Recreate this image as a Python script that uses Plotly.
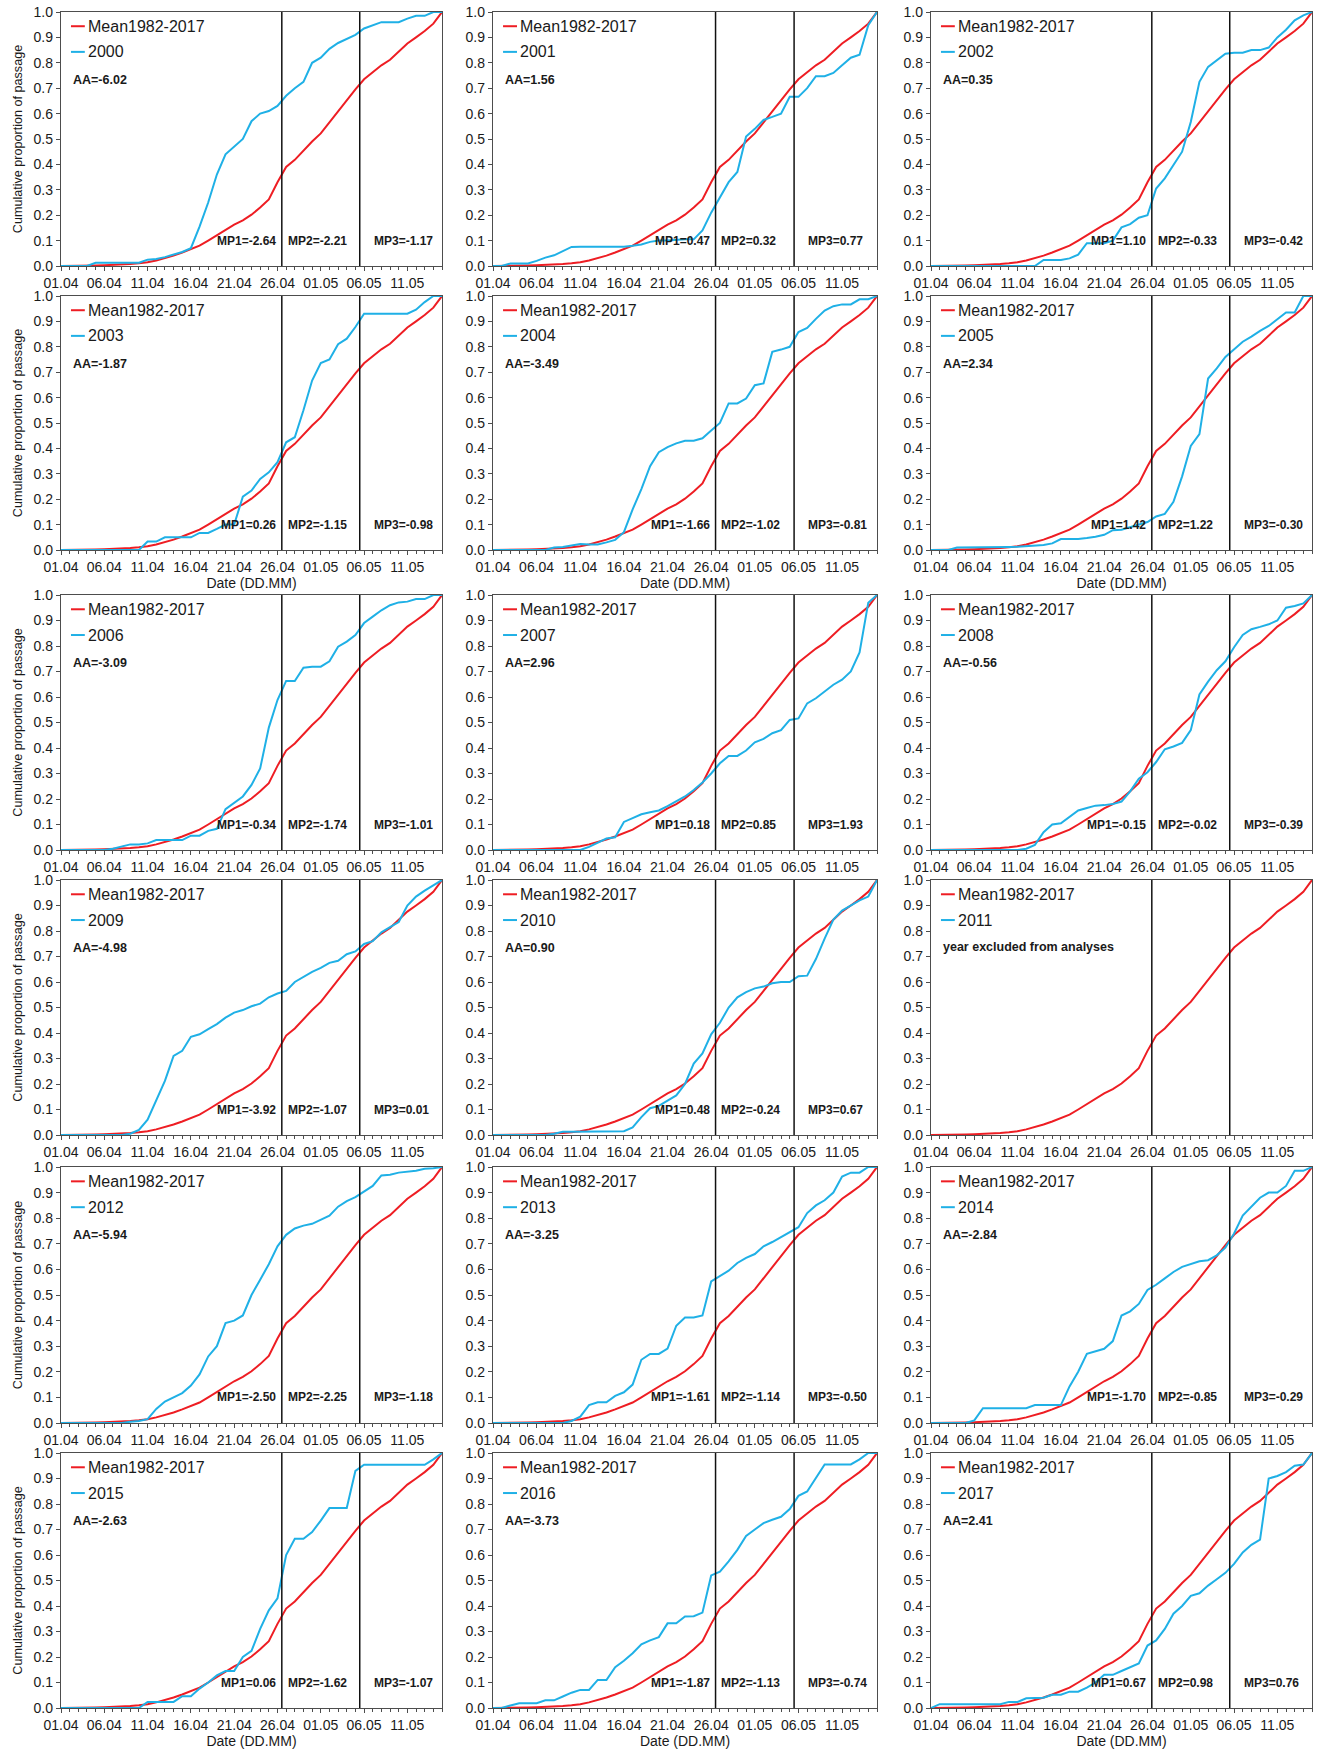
import plotly.graph_objects as go

# ---------------- data ----------------
DAYS = list(range(45))  # day offset from 01.04 (0) to 15.05 (44)
TICK_DAYS = [0, 5, 10, 15, 20, 25, 30, 35, 40]
TICK_TEXT = ["01.04", "06.04", "11.04", "16.04", "21.04", "26.04", "01.05", "06.05", "11.05"]
Y_TICKS = [0.0, 0.1, 0.2, 0.3, 0.4, 0.5, 0.6, 0.7, 0.8, 0.9, 1.0]
MP_LINES = [25.5, 34.5]

YEARS = [2000, 2001, 2002, 2003, 2004, 2005, 2006, 2007, 2008,
         2009, 2010, 2011, 2012, 2013, 2014, 2015, 2016, 2017]

MEAN = [0, 0, 0, 0.001, 0.002, 0.003, 0.004, 0.006, 0.008, 0.011, 0.015, 0.022, 0.031, 0.041, 0.053,
        0.065, 0.08, 0.1, 0.122, 0.143, 0.163, 0.18, 0.202, 0.23, 0.262, 0.33, 0.39, 0.418, 0.455,
        0.49, 0.522, 0.565, 0.61, 0.655, 0.695, 0.735, 0.762, 0.79, 0.812, 0.845, 0.876, 0.9, 0.925,
        0.954, 1.0]

Y2000 = [0, 0, 0, 0, 0.013, 0.013, 0.013, 0.013, 0.013, 0.013, 0.025, 0.028, 0.035, 0.045, 0.055,
         0.07, 0.155, 0.25, 0.36, 0.44, 0.47, 0.5, 0.57, 0.6, 0.61, 0.63, 0.67, 0.7, 0.725, 0.8, 0.82,
         0.855, 0.878, 0.895, 0.91, 0.935, 0.948, 0.96, 0.96, 0.96, 0.974, 0.985, 0.985, 1.0, 1.0]
Y2001 = [0, 0, 0.01, 0.01, 0.01, 0.02, 0.033, 0.042, 0.06, 0.075, 0.076, 0.076, 0.076, 0.076, 0.076,
         0.076, 0.08, 0.085, 0.095, 0.1, 0.1, 0.103, 0.105, 0.105, 0.14, 0.21, 0.27, 0.33, 0.37, 0.51,
         0.54, 0.575, 0.587, 0.6, 0.666, 0.666, 0.7, 0.747, 0.747, 0.76, 0.79, 0.82, 0.832, 0.948, 1.0]
Y2002 = [0, 0, 0, 0, 0, 0, 0, 0, 0, 0, 0, 0, 0, 0.024, 0.024, 0.024, 0.03, 0.045, 0.09, 0.09, 0.09,
         0.1, 0.152, 0.165, 0.19, 0.2, 0.305, 0.345, 0.397, 0.45, 0.567, 0.725, 0.784, 0.81, 0.836,
         0.84, 0.84, 0.85, 0.85, 0.86, 0.9, 0.93, 0.967, 0.987, 1.0]
Y2003 = [0, 0, 0, 0, 0, 0, 0, 0, 0, 0, 0.033, 0.033, 0.05, 0.05, 0.05, 0.05, 0.067, 0.067, 0.083,
         0.1, 0.1, 0.21, 0.234, 0.28, 0.306, 0.346, 0.424, 0.444, 0.55, 0.667, 0.736, 0.75, 0.81,
         0.832, 0.878, 0.93, 0.93, 0.93, 0.93, 0.93, 0.93, 0.946, 0.976, 1.0, 1.0]
Y2004 = [0, 0, 0, 0, 0, 0, 0, 0.01, 0.012, 0.018, 0.024, 0.022, 0.022, 0.03, 0.04, 0.07, 0.16, 0.24,
         0.33, 0.385, 0.405, 0.42, 0.43, 0.43, 0.44, 0.47, 0.5, 0.577, 0.577, 0.596, 0.649, 0.656,
         0.78, 0.789, 0.8, 0.858, 0.874, 0.91, 0.943, 0.96, 0.967, 0.967, 0.987, 0.987, 1.0]
Y2005 = [0, 0, 0, 0.01, 0.01, 0.01, 0.01, 0.01, 0.01, 0.012, 0.013, 0.015, 0.018, 0.02, 0.026, 0.043,
         0.043, 0.043, 0.047, 0.052, 0.06, 0.078, 0.08, 0.09, 0.1, 0.11, 0.132, 0.142, 0.19, 0.29,
         0.41, 0.456, 0.675, 0.715, 0.76, 0.79, 0.82, 0.84, 0.863, 0.882, 0.91, 0.935, 0.935, 1.0, 1.0]
Y2006 = [0, 0, 0, 0, 0, 0, 0.005, 0.013, 0.022, 0.022, 0.026, 0.039, 0.039, 0.039, 0.039, 0.056,
         0.056, 0.075, 0.083, 0.16, 0.185, 0.21, 0.255, 0.32, 0.48, 0.588, 0.663, 0.663, 0.715, 0.719,
         0.719, 0.74, 0.797, 0.817, 0.843, 0.89, 0.915, 0.94, 0.96, 0.971, 0.974, 0.984, 0.984, 1.0, 1.0]
Y2007 = [0, 0, 0, 0, 0, 0, 0, 0, 0, 0, 0, 0.012, 0.03, 0.045, 0.05, 0.11, 0.125, 0.14, 0.148, 0.155,
         0.172, 0.19, 0.21, 0.235, 0.265, 0.3, 0.34, 0.369, 0.369, 0.39, 0.422, 0.436, 0.458, 0.47,
         0.51, 0.516, 0.575, 0.595, 0.622, 0.648, 0.668, 0.7, 0.775, 0.97, 1.0]
Y2008 = [0, 0, 0, 0, 0, 0, 0, 0, 0, 0, 0, 0.005, 0.02, 0.07, 0.1, 0.105, 0.13, 0.155, 0.165, 0.174,
         0.176, 0.18, 0.19, 0.23, 0.28, 0.305, 0.345, 0.395, 0.406, 0.42, 0.47, 0.61, 0.66, 0.705,
         0.74, 0.795, 0.843, 0.866, 0.875, 0.885, 0.9, 0.95, 0.957, 0.967, 1.0]
Y2009 = [0, 0, 0, 0, 0, 0, 0, 0, 0.005, 0.02, 0.06, 0.133, 0.212, 0.31, 0.33, 0.385, 0.395, 0.415,
         0.435, 0.46, 0.48, 0.49, 0.505, 0.515, 0.54, 0.555, 0.565, 0.6, 0.62, 0.64, 0.655, 0.675,
         0.683, 0.709, 0.72, 0.749, 0.76, 0.795, 0.815, 0.835, 0.9, 0.935, 0.958, 0.978, 1.0]
Y2010 = [0, 0, 0, 0, 0, 0, 0, 0.005, 0.013, 0.013, 0.013, 0.013, 0.013, 0.013, 0.013, 0.015, 0.03,
         0.07, 0.105, 0.114, 0.135, 0.155, 0.2, 0.28, 0.32, 0.395, 0.44, 0.5, 0.54, 0.56, 0.575, 0.582,
         0.595, 0.6, 0.6, 0.623, 0.625, 0.69, 0.77, 0.845, 0.88, 0.9, 0.92, 0.935, 1.0]
Y2011 = []  # year excluded from analyses
Y2012 = [0, 0, 0, 0, 0, 0, 0, 0, 0.005, 0.008, 0.015, 0.055, 0.084, 0.102, 0.117, 0.146, 0.19, 0.26,
         0.3, 0.39, 0.4, 0.42, 0.5, 0.56, 0.62, 0.69, 0.735, 0.76, 0.771, 0.778, 0.795, 0.81, 0.845,
         0.867, 0.882, 0.904, 0.926, 0.967, 0.97, 0.978, 0.982, 0.985, 0.993, 0.995, 1.0]
Y2013 = [0, 0, 0, 0, 0, 0, 0, 0, 0, 0.008, 0.025, 0.07, 0.081, 0.081, 0.106, 0.12, 0.15, 0.247, 0.27,
         0.27, 0.291, 0.38, 0.412, 0.412, 0.42, 0.553, 0.575, 0.595, 0.625, 0.645, 0.66, 0.69, 0.707,
         0.727, 0.745, 0.765, 0.82, 0.85, 0.87, 0.9, 0.963, 0.978, 0.978, 1.0, 1.0]
Y2014 = [0, 0, 0, 0, 0, 0.01, 0.058, 0.058, 0.058, 0.058, 0.058, 0.058, 0.07, 0.07, 0.07, 0.07, 0.143,
         0.2, 0.27, 0.28, 0.29, 0.32, 0.42, 0.436, 0.465, 0.52, 0.54, 0.565, 0.59, 0.61, 0.622, 0.632,
         0.636, 0.655, 0.685, 0.74, 0.81, 0.845, 0.88, 0.9, 0.9, 0.926, 0.985, 0.985, 1.0]
Y2015 = [0, 0, 0, 0, 0, 0, 0, 0, 0, 0, 0.024, 0.024, 0.024, 0.024, 0.046, 0.046, 0.076, 0.1, 0.128,
         0.145, 0.145, 0.2, 0.224, 0.31, 0.383, 0.43, 0.6, 0.664, 0.664, 0.69, 0.735, 0.784, 0.784,
         0.784, 0.93, 0.954, 0.954, 0.954, 0.954, 0.954, 0.954, 0.954, 0.954, 0.975, 1.0]
Y2016 = [0, 0, 0.01, 0.019, 0.019, 0.019, 0.03, 0.03, 0.045, 0.06, 0.071, 0.071, 0.11, 0.11, 0.16,
         0.185, 0.215, 0.25, 0.265, 0.278, 0.332, 0.332, 0.359, 0.36, 0.374, 0.52, 0.535, 0.575, 0.62,
         0.675, 0.7, 0.725, 0.738, 0.75, 0.78, 0.832, 0.849, 0.9, 0.955, 0.955, 0.955, 0.955, 0.975,
         1.0, 1.0]
Y2017 = [0, 0.015, 0.015, 0.015, 0.015, 0.015, 0.015, 0.015, 0.015, 0.024, 0.024, 0.038, 0.038, 0.04,
         0.052, 0.052, 0.064, 0.064, 0.08, 0.1, 0.13, 0.13, 0.145, 0.16, 0.175, 0.245, 0.265, 0.31,
         0.37, 0.4, 0.44, 0.45, 0.48, 0.505, 0.53, 0.565, 0.61, 0.64, 0.66, 0.9, 0.91, 0.925, 0.95,
         0.955, 1.0]

YEAR_SERIES = [Y2000, Y2001, Y2002, Y2003, Y2004, Y2005, Y2006, Y2007, Y2008,
               Y2009, Y2010, Y2011, Y2012, Y2013, Y2014, Y2015, Y2016, Y2017]

AA = [-6.02, 1.56, 0.35, -1.87, -3.49, 2.34, -3.09, 2.96, -0.56,
      -4.98, 0.90, None, -5.94, -3.25, -2.84, -2.63, -3.73, 2.41]
MP1 = [-2.64, 0.47, 1.10, 0.26, -1.66, 1.42, -0.34, 0.18, -0.15,
       -3.92, 0.48, None, -2.50, -1.61, -1.70, 0.06, -1.87, 0.67]
MP2 = [-2.21, 0.32, -0.33, -1.15, -1.02, 1.22, -1.74, 0.85, -0.02,
       -1.07, -0.24, None, -2.25, -1.14, -0.85, -1.62, -1.13, 0.98]
MP3 = [-1.17, 0.77, -0.42, -0.98, -0.81, -0.30, -1.01, 1.93, -0.39,
       0.01, 0.67, None, -1.18, -0.50, -0.29, -1.07, -0.74, 0.76]

for s in YEAR_SERIES:
    assert len(s) in (0, 45), len(s)
assert len(MEAN) == 45

# ---------------- style / layout ----------------
W, H = 1322, 1751
RED = "#ee1d23"
BLUE = "#1fb0e6"
FRAME = "#4d4d4d"
TXT = "#1a1a1a"
FONT = "Liberation Sans, Arial, sans-serif"

# panel plot areas, in page pixels
COL_PX = [(61, 442), (493, 877), (931, 1312)]
ROW_PX = [(12, 266), (296, 550), (595, 850), (880, 1135), (1167, 1423), (1453, 1708)]
XTITLE_ROWS = {1, 5}


def dom_x(a, b):
    return [a / W, b / W]


def dom_y(a, b):
    return [1 - b / H, 1 - a / H]


fig = go.Figure()
shapes = []
annotations = []
layout = {}

for i, year in enumerate(YEARS):
    r, c = divmod(i, 3)
    n = "" if i == 0 else str(i + 1)
    xa, ya = "x" + n, "y" + n
    x0, x1 = COL_PX[c]
    y0, y1 = ROW_PX[r]

    fig.add_trace(go.Scatter(x=DAYS, y=MEAN, xaxis=xa, yaxis=ya, mode="lines",
                             line=dict(color=RED, width=2), name="Mean1982-2017",
                             showlegend=False, hoverinfo="skip"))
    ys = YEAR_SERIES[i]
    if ys:
        fig.add_trace(go.Scatter(x=DAYS, y=ys, xaxis=xa, yaxis=ya, mode="lines",
                                 line=dict(color=BLUE, width=2), name=str(year),
                                 showlegend=False, hoverinfo="skip"))

    xaxis = dict(domain=dom_x(x0, x1), anchor=ya, range=[0, 44], automargin=False,
                 tickmode="array", tickvals=TICK_DAYS, ticktext=TICK_TEXT,
                 ticklabeloverflow="allow",
                 ticks="outside", ticklen=4, tickwidth=1, tickcolor=FRAME,
                 minor=dict(ticks="outside", ticklen=3, tickmode="linear", tick0=0, dtick=1,
                            tickcolor=FRAME, tickwidth=1, showgrid=False),
                 showline=True, mirror=True, linecolor=FRAME, linewidth=1.3,
                 showgrid=False, zeroline=False,
                 tickfont=dict(family=FONT, size=14, color=TXT))
    if r in XTITLE_ROWS:
        xaxis["title"] = dict(text="Date (DD.MM)", font=dict(family=FONT, size=14, color=TXT),
                              standoff=2)
    yaxis = dict(domain=dom_y(y0, y1), anchor=xa, range=[0, 1], automargin=False,
                 tickmode="array", tickvals=Y_TICKS, tickformat=".1f",
                 ticklabeloverflow="allow",
                 ticks="outside", ticklen=4, tickwidth=1, tickcolor=FRAME,
                 showline=True, mirror=True, linecolor=FRAME, linewidth=1.3,
                 showgrid=False, zeroline=False,
                 tickfont=dict(family=FONT, size=14, color=TXT))
    if c == 0:
        yaxis["title"] = dict(text="Cumulative proportion of passage",
                              font=dict(family=FONT, size=12.6, color=TXT), standoff=8)
    layout["xaxis" + n] = xaxis
    layout["yaxis" + n] = yaxis

    # vertical lines
    for d in MP_LINES:
        shapes.append(dict(type="line", xref=xa, yref=ya, x0=d, x1=d, y0=0, y1=1,
                           line=dict(color="#111111", width=1.5), layer="above"))
    # legend (manual, per panel)
    for yy, col, label in [(0.944, RED, "Mean1982-2017"), (0.843, BLUE, str(year))]:
        shapes.append(dict(type="line", xref=xa, yref=ya, x0=1.15, x1=2.75, y0=yy, y1=yy,
                           line=dict(color=col, width=2), layer="above"))
        annotations.append(dict(xref=xa, yref=ya, x=2.85, y=yy, text=label, showarrow=False,
                                xanchor="left", yanchor="middle",
                                font=dict(family=FONT, size=16, color=TXT)))
    if AA[i] is None:
        annotations.append(dict(xref=xa, yref=ya, x=1.1, y=0.738,
                                text="<b>year excluded from analyses</b>", showarrow=False,
                                xanchor="left", yanchor="middle",
                                font=dict(family=FONT, size=12.5, color=TXT)))
    else:
        annotations.append(dict(xref=xa, yref=ya, x=1.1, y=0.734,
                                text="<b>AA=%.2f</b>" % AA[i], showarrow=False,
                                xanchor="left", yanchor="middle",
                                font=dict(family=FONT, size=12.5, color=TXT)))
        for xx, anc, txt in [(25.1, "right", "MP1=%.2f" % MP1[i]),
                             (25.95, "left", "MP2=%.2f" % MP2[i]),
                             (35.9, "left", "MP3=%.2f" % MP3[i])]:
            annotations.append(dict(xref=xa, yref=ya, x=xx, y=0.1, text="<b>%s</b>" % txt,
                                    showarrow=False, xanchor=anc, yanchor="middle",
                                    font=dict(family=FONT, size=12, color=TXT)))

fig.update_layout(**layout)
fig.update_layout(width=W, height=H, autosize=False,
                  margin=dict(l=0, r=0, t=0, b=0, pad=0, autoexpand=False),
                  paper_bgcolor="white", plot_bgcolor="white",
                  showlegend=False, shapes=shapes, annotations=annotations,
                  font=dict(family=FONT, color=TXT))

# remove the default 8px page margin so the figure fills the window exactly
fig.write_html("out.html", config={"displayModeBar": False},
               post_script="document.body.style.margin='0';document.body.style.overflow='hidden';")
